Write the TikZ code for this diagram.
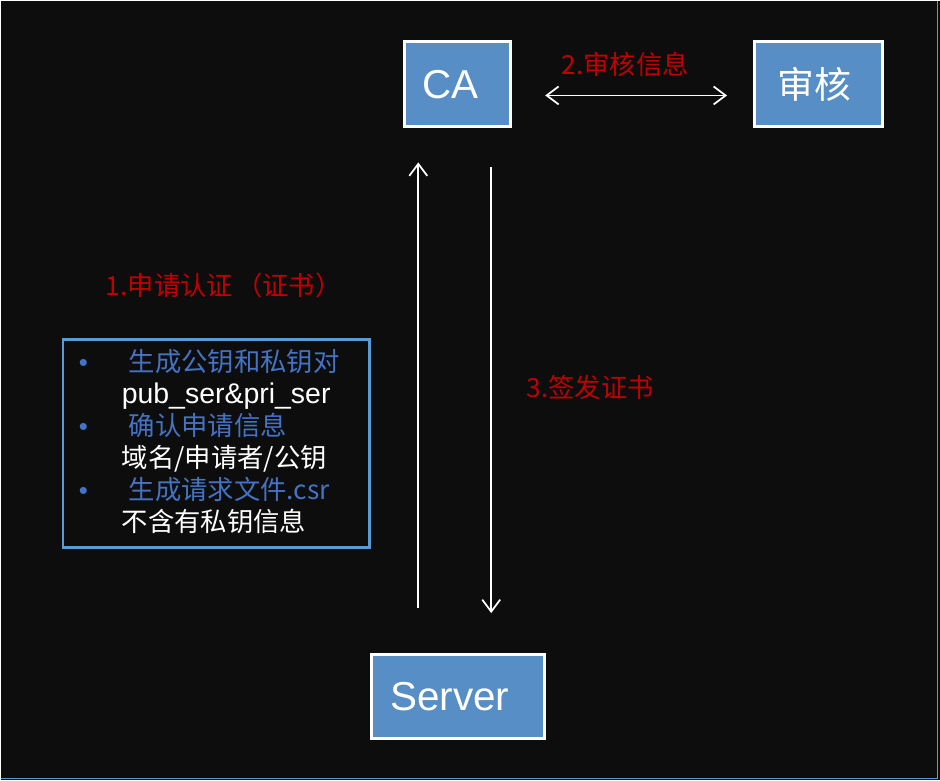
\documentclass[tikz,border=0pt]{standalone}
\usepackage{fontspec}
\setmainfont{Noto Sans CJK SC}
\newfontfamily\latinfont{Liberation Sans}
\usetikzlibrary{positioning,arrows.meta}
\definecolor{canvasbg}{RGB}{13,13,13}
\definecolor{boxblue}{RGB}{86,142,197}
\definecolor{frameblue}{RGB}{91,155,213}
\definecolor{textblue}{RGB}{68,114,196}
\definecolor{labelred}{RGB}{192,0,0}
\tikzset{
    % Party boxes (CA, audit, server)
    entity/.style={
        draw=white,
        fill=boxblue,
        line width=0.06cm,
        minimum height=1.70cm,
        inner sep=0pt,
        text=white
    },
    % Box holding the preparation steps
    listbox/.style={
        draw=frameblue,
        line width=0.06cm,
        inner sep=0pt
    },
    % Step texts
    stepline/.style={
        anchor=base west,
        inner sep=0pt,
        font=\fontsize{15}{18}\selectfont
    },
    % Red flow labels
    flowlabel/.style={
        anchor=base west,
        inner sep=0pt,
        text=labelred,
        font=\fontsize{15}{18}\selectfont
    },
    % Arrows
    flowarrow/.style={
        -{Straight Barb[length=2.4mm,width=3.6mm]},
        line width=0.035cm,
        white
    },
    bidiarrow/.style={
        {Straight Barb[length=2.4mm,width=3.6mm]}-{Straight Barb[length=2.4mm,width=3.6mm]},
        line width=0.035cm,
        white
    }
}

\begin{document}
\begin{tikzpicture}[x=0.02cm, y=-0.02cm]

% === BACKGROUND ===
\fill[canvasbg] (0,0) rectangle (940,780);
\draw[frameblue, line width=0.02cm] (937,0) -- (937,778) -- (0,778);

% === PARTIES ===
\node[entity, minimum width=2.12cm, font=\latinfont\fontsize{23}{26}\selectfont] (ca) at (457.5,84) {CA\rule{0.28cm}{0pt}};

\node[entity, minimum width=2.56cm, right=4.82cm of ca, font=\fontsize{21}{25}\selectfont] (audit) {审核\rule{0.16cm}{0pt}};

\node[entity, minimum width=3.46cm, minimum height=1.68cm, below=10.5cm of ca, font=\latinfont\fontsize{23}{26}\selectfont] (server) {Server\rule{0.32cm}{0pt}};

% Arrows between parties
\draw[bidiarrow, shorten <=0.66cm, shorten >=0.52cm] ([yshift=-0.22cm]ca.east) -- ([yshift=-0.22cm]audit.west);
\draw[flowarrow, shorten <=0.9cm, shorten >=0.68cm] ([xshift=-0.79cm]server.north) -- ([xshift=-0.79cm]ca.south);
\draw[flowarrow, shorten <=0.78cm, shorten >=0.8cm] ([xshift=0.67cm]ca.south) -- ([xshift=0.67cm]server.north);

% Flow labels
\node[flowlabel] (checklabel) at (561,74) {2.审核信息};
\node[flowlabel] (applylabel) at (105,295) {1.申请认证\hspace{0.06cm}（证书）};
\node[flowlabel] (issuelabel) at (526,397) {3.签发证书};

% === PREPARATION STEPS ===
\node[listbox, minimum width=6.14cm, minimum height=4.16cm] (steps) at (216,443.5) {};

\node[stepline, text=textblue, font=\latinfont\fontsize{14.7}{17}\selectfont] (bulleta) at (78,371) {•};
\node[stepline, text=textblue] (stepa) at (128,371) {生成公钥和私钥对};
\node[stepline, text=white, font=\latinfont\fontsize{16.2}{19}\selectfont] (notea) at (121,403) {pub\_ser\&pri\_ser};

\node[stepline, text=textblue, font=\latinfont\fontsize{14.7}{17}\selectfont] (bulletb) at (78,435) {•};
\node[stepline, text=textblue] (stepb) at (128,435) {确认申请信息};
\node[stepline, text=white] (noteb) at (121,467) {域名/申请者/公钥};

\node[stepline, text=textblue, font=\latinfont\fontsize{14.7}{17}\selectfont] (bulletc) at (78,499) {•};
\node[stepline, text=textblue] (stepc) at (128,499) {生成请求文件.csr};
\node[stepline, text=white] (notec) at (121,531) {不含有私钥信息};

\end{tikzpicture}
\end{document}
